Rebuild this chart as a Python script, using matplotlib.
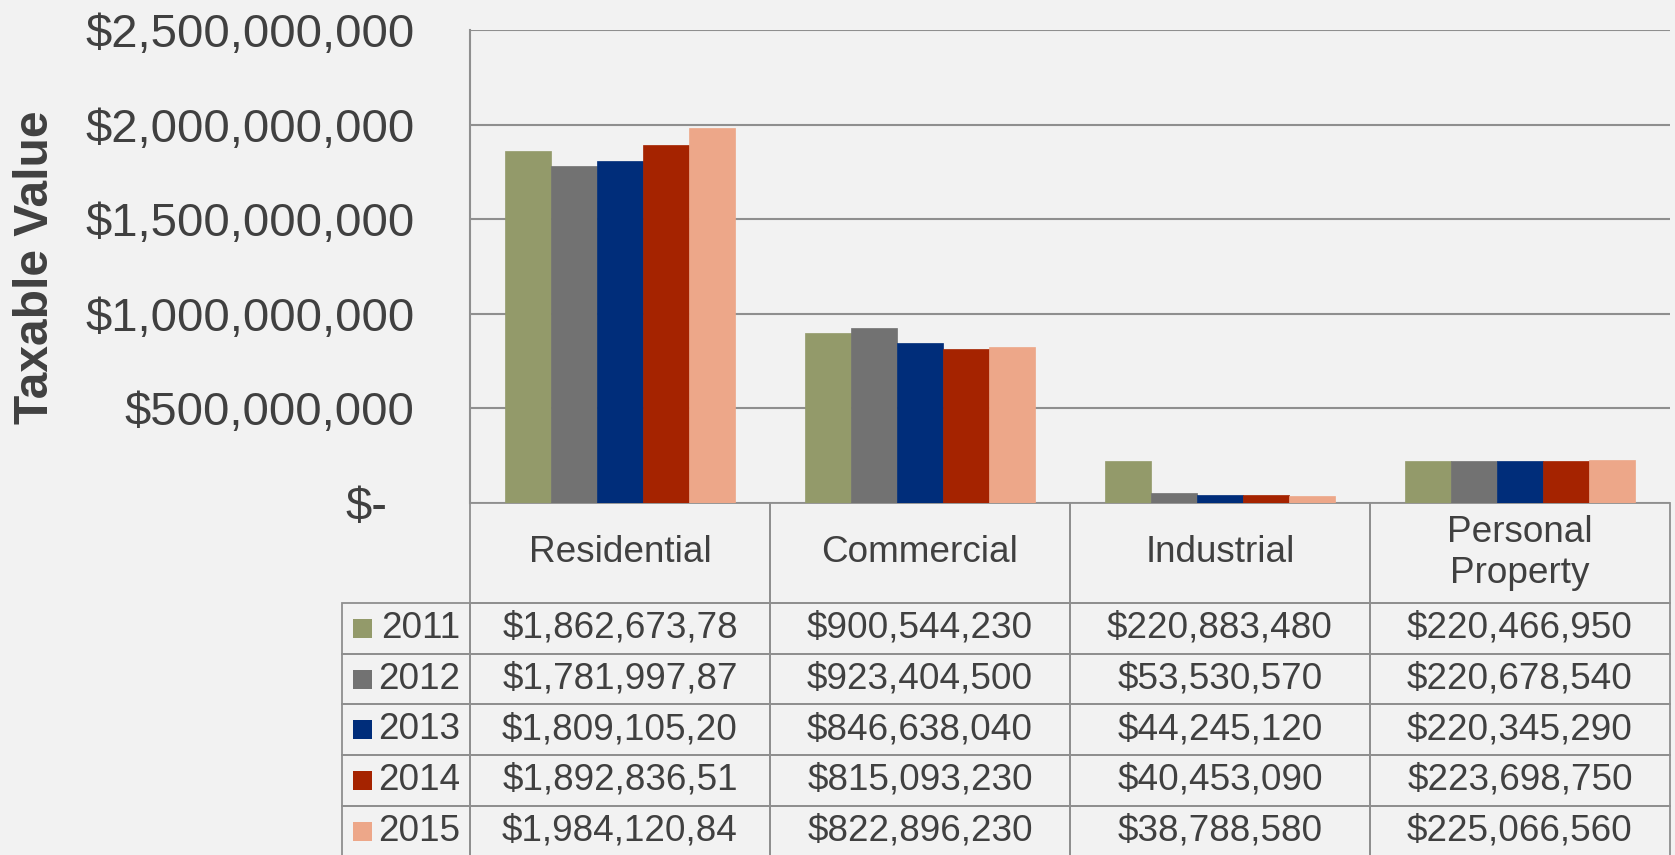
import numpy as np
import matplotlib
matplotlib.use("Agg")
import matplotlib.pyplot as plt
from matplotlib.patches import Rectangle
from matplotlib.transforms import ScaledTranslation

plt.rcParams['font.family'] = ['Liberation Sans', 'DejaVu Sans']

# data
categories = ['Residential', 'Commercial', 'Industrial', 'Personal\nProperty']
years = ['2011', '2012', '2013', '2014', '2015']
residential = [1862673780, 1781997870, 1809105200, 1892836510, 1984120840]
commercial = [900544230, 923404500, 846638040, 815093230, 822896230]
industrial = [220883480, 53530570, 44245120, 40453090, 38788580]
personal = [220466950, 220678540, 220345290, 223698750, 225066560]
colors = ['#939a6a', '#727272', '#002d7a', '#a52300', '#eda789']
yticks = [0, 500000000, 1000000000, 1500000000, 2000000000, 2500000000]

values = np.array([residential, commercial, industrial, personal]).T  # rows = years

bg = '#f2f2f2'
txt = '#404040'
line = '#8f8f8f'

W, H = 1675, 855
fig = plt.figure(figsize=(W / 100, H / 100), dpi=100, facecolor=bg)
# plot area in pixels: x 470..1670, y 30..503
ax = fig.add_axes([470 / W, (H - 503) / H, 1200 / W, 473 / H], facecolor=bg)

n = len(years)
x = np.arange(len(categories))
bw = 1 / (n + 1.5)  # gap width 150%
for i in range(n):
    ax.bar(x + (i - (n - 1) / 2) * bw, values[i], width=bw, color=colors[i],
           edgecolor=colors[i], linewidth=0.5, zorder=3)

ax.set_xlim(-0.5, len(categories) - 0.5)
ax.set_ylim(0, 2500000000)
ax.set_yticks(yticks)
ax.set_yticklabels(['$-'] + ['${:,.0f}'.format(v) for v in yticks[1:]])
ax.tick_params(axis='y', length=0, pad=40, labelsize=34, labelcolor=txt)
ax.set_xticks([])
ax.grid(axis='y', color=line, linewidth=1.5, zorder=0)
for s in ['top', 'right', 'bottom']:
    ax.spines[s].set_visible(False)
ax.spines['left'].set_color(line)
ax.spines['left'].set_linewidth(1.5)
# "$-" label sits one digit further left
lab0 = ax.get_yticklabels()[0]
lab0.set_transform(lab0.get_transform() + ScaledTranslation(-0.27, 0, fig.dpi_scale_trans))

ax.set_ylabel('Taxable Value', fontsize=34.5, fontweight='bold', color=txt)
ax.yaxis.label.set_verticalalignment('center')
ax.yaxis.set_label_coords(-(470 - 36) / 1200, 0.5 - (267.5 - 266.5) / 473)

# data table below the plot
cell_text = [[y] + [('${:,}'.format(v))[:13] for v in values[i]] for i, y in enumerate(years)]
col_labels = [''] + categories
leg_w, col_w = 128, 300
head_h, row_h = 100, 50.7
tab_h = head_h + n * row_h
tab = ax.table(cellText=cell_text, colLabels=col_labels, cellLoc='center',
               bbox=[-leg_w / 1200, -tab_h / 473, (leg_w + 4 * col_w) / 1200, tab_h / 473])
tab.auto_set_font_size(False)
tab.set_fontsize(26.6)
for (r, c), cell in tab.get_celld().items():
    cell.set_height(head_h if r == 0 else row_h)
    cell.set_width(leg_w if c == 0 else col_w)
    cell.set_facecolor('none')
    cell.set_edgecolor(line)
    cell.set_linewidth(1.3)
    cell.get_text().set_color(txt)
    if c == 0:
        if r == 0:
            cell.visible_edges = ''
        else:
            cell.get_text().set_horizontalalignment('right')
            cell.PAD = 0.08
tab.set_clip_on(False)

# legend keys in the first table column
for i in range(n):
    yc = -(head_h + row_h * (i + 0.5)) / 473
    ax.add_patch(Rectangle((-(470 - 353) / 1200, yc - 9.5 / 473), 19 / 1200, 19 / 473,
                           transform=ax.transAxes, facecolor=colors[i],
                           edgecolor='none', clip_on=False))

fig.savefig('out.png', dpi=100, facecolor=bg)
